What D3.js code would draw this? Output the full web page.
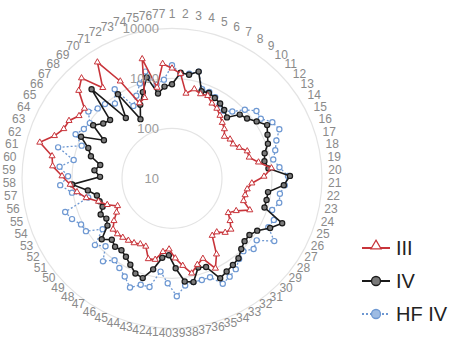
<!DOCTYPE html>
<html><head><meta charset="utf-8">
<script src="https://cdn.jsdelivr.net/npm/d3@7"></script>
<style>
html,body{margin:0;padding:0;background:#fff;}
svg{display:block;}
</style></head>
<body>
<svg id="chart" width="450" height="341"></svg>
<script>
const categories = d3.range(1, 78).map(String);
const seriesNames = ["III", "IV", "HF IV"];
const radialTicks = [10, 100, 1000, 10000];

const valuesIII = [1585,1259,525,692,603,631,501,457,380,316,275,219,251,251,302,398,398,575,1000,692,
  398,331,316,316,479,275,209,275,363,331,251,251,575,1000,525,631,871,575,398,263,
  302,457,479,288,288,316,331,347,363,363,275,200,166,251,347,575,832,1096,1585,2512,
  2754,5495,3162,2399,2291,1738,1738,3631,5012,1905,5754,1585,437,501,2884,692,1995];
const valuesIV = [759,1318,1259,1585,692,724,661,603,525,437,724,832,1096,1514,1259,1096,832,759,871,2291,
  1738,871,871,871,2399,1585,1000,832,832,955,1202,1318,1445,1660,794,724,1318,1202,631,347,
  398,724,1202,1096,832,661,575,603,525,724,398,347,398,316,331,347,501,1000,275,363,
  288,479,603,1000,363,794,575,501,2512,331,1000,219,398,661,1202,525,692];
const valuesHFIV = [1820,1259,1318,1585,759,759,692,575,501,631,1000,1445,1380,1995,2291,1660,1380,1148,1445,2089,
  1820,1514,1585,1259,1585,1445,2512,1259,1445,1096,1259,1660,1905,2188,1318,1318,1318,1445,2291,1259,
  759,1660,1660,2188,1514,1202,1000,1445,794,1096,525,1047,1096,1445,1738,525,1047,1738,1202,1820,
  1000,2291,832,1318,1047,955,1380,1096,1000,759,1318,437,631,1000,1585,794,955];

const svg = d3.select("#chart");
const cx = 172, cy = 178.3;
const r = d3.scaleLog().domain([10, 10000]).range([0, 150]);
const ang = d3.scalePoint().domain(categories).range([0, 2*Math.PI*(76/77)]);

const pt = (c, v) => {
  const a = ang(c), rr = r(v);
  return [cx + rr*Math.sin(a), cy - rr*Math.cos(a)];
};

const g = svg.append("g");
g.selectAll("circle.grid").data(radialTicks.slice(1)).enter().append("circle")
  .attr("cx", cx).attr("cy", cy).attr("r", d => r(d))
  .attr("fill", "none").attr("stroke", "#e4e4e4").attr("stroke-width", 1.2);

// category labels: centres on a ring slightly above the plot centre
g.selectAll("text.cat").data(categories).enter().append("text")
  .attr("class", "cat")
  .attr("x", c => cx + 163*Math.sin(ang(c)))
  .attr("y", c => cy - 5 - 160*Math.cos(ang(c)))
  .attr("dy", "0.35em")
  .attr("text-anchor", "middle")
  .attr("font-family", "Liberation Sans, Arial, sans-serif")
  .attr("font-size", 12).attr("fill", "#8a8a8a")
  .text(d => d);

const lineGen = d3.line().x(d => d[0]).y(d => d[1]).curve(d3.curveLinearClosed);

function drawSeries(vals, opt) {
  const pts = categories.map((c, i) => pt(c, vals[i]));
  const sg = g.append("g");
  sg.append("path").attr("d", lineGen(pts)).attr("fill", "none")
    .attr("stroke", opt.color).attr("stroke-width", opt.width)
    .attr("stroke-dasharray", opt.dash || null);
  if (opt.marker === "tri") {
    sg.selectAll("path.m").data(pts).enter().append("path")
      .attr("d", d3.symbol().type(d3.symbolTriangle).size(16))
      .attr("transform", d => `translate(${d[0]},${d[1]})`)
      .attr("fill", "#fff").attr("stroke", opt.color).attr("stroke-width", 1);
  } else {
    sg.selectAll("circle.m").data(pts).enter().append("circle")
      .attr("cx", d => d[0]).attr("cy", d => d[1]).attr("r", 2.6)
      .attr("fill", opt.fill).attr("stroke", opt.color).attr("stroke-width", 1.2);
  }
}

drawSeries(valuesHFIV, {color: "#6e98d2", width: 1.3, dash: "2,2", marker: "circ", fill: "#fff"});
drawSeries(valuesIV, {color: "#1a1a1a", width: 1.6, marker: "circ", fill: "#7a7a7a"});
drawSeries(valuesIII, {color: "#c8343a", width: 1.6, marker: "tri"});

g.selectAll("text.tick").data(radialTicks).enter().append("text")
  .attr("x", cx - 13).attr("y", d => cy - r(d)).attr("dy", "0.35em")
  .attr("text-anchor", "end")
  .attr("font-family", "Liberation Sans, Arial, sans-serif")
  .attr("font-size", 13).attr("fill", "#9a9a9a")
  .text(d => d);

const legend = [
  {name: seriesNames[0], color: "#c8343a", dash: null, marker: "tri", fill: "#fff"},
  {name: seriesNames[1], color: "#1a1a1a", dash: null, marker: "circ", fill: "#7a7a7a"},
  {name: seriesNames[2], color: "#6e98d2", dash: "2,2", marker: "circ", fill: "#9dbbe3"}
];
const lg = svg.append("g");
legend.forEach((d, i) => {
  const y = 248 + i*33;
  lg.append("line").attr("x1", 362).attr("x2", 390).attr("y1", y).attr("y2", y)
    .attr("stroke", d.color).attr("stroke-width", 2).attr("stroke-dasharray", d.dash);
  if (d.marker === "tri") {
    lg.append("path").attr("d", d3.symbol().type(d3.symbolTriangle).size(45))
      .attr("transform", `translate(376,${y-2})`)
      .attr("fill", "#fff").attr("stroke", d.color).attr("stroke-width", 1.2);
  } else {
    lg.append("circle").attr("cx", 376).attr("cy", y).attr("r", 4.5)
      .attr("fill", d.fill).attr("stroke", d.color).attr("stroke-width", 1.3);
  }
  lg.append("text").attr("x", 396).attr("y", y).attr("dy", "0.36em")
    .attr("font-family", "Liberation Sans, Arial, sans-serif")
    .attr("font-size", 20).attr("fill", "#222").text(d.name);
});
</script>
</body></html>
